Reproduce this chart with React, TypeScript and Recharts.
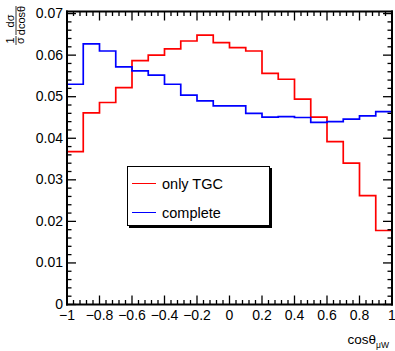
import { LineChart, Line, XAxis, YAxis, Legend } from 'recharts'

// histogram bin edges (20 bins of 0.1)
const binEdges = [
  -1, -0.9, -0.8, -0.7, -0.6, -0.5, -0.4, -0.3, -0.2, -0.1,
  0, 0.1, 0.2, 0.3, 0.4, 0.5, 0.6, 0.7, 0.8, 0.9, 1
]

const onlyTGC = [
  0.0368, 0.0461, 0.0486, 0.0522, 0.0587, 0.0600, 0.0615, 0.0634, 0.0648, 0.0630,
  0.0618, 0.0610, 0.0556, 0.0542, 0.0494, 0.0451, 0.0392, 0.0340, 0.0262, 0.0178
]

const complete = [
  0.0530, 0.0627, 0.0610, 0.0572, 0.0562, 0.0552, 0.0530, 0.0504, 0.0490, 0.0478,
  0.0478, 0.0460, 0.0451, 0.0452, 0.0450, 0.0438, 0.0440, 0.0446, 0.0454, 0.0464
]

const seriesNames = ['only TGC', 'complete']

const xMajorTicks = [-1, -0.8, -0.6, -0.4, -0.2, 0, 0.2, 0.4, 0.6, 0.8, 1]
const yMajorTicks = [0, 0.01, 0.02, 0.03, 0.04, 0.05, 0.06, 0.07]

// ROOT style: 5 minor divisions between majors
const xTicks = Array.from({ length: 51 }, (_, i) => -1 + i * 0.04)
const yTicks = Array.from({ length: 36 }, (_, i) => i * 0.002)

// last edge repeats the last bin so stepAfter closes the histogram at x = 1
const data = binEdges.map((x, i) => ({
  x,
  tgc: onlyTGC[Math.min(i, onlyTGC.length - 1)],
  complete: complete[Math.min(i, complete.length - 1)]
}))

const FONT = 'Liberation Sans, Arial, Helvetica, sans-serif'
const MAJOR = 9
const MINOR = 4.5
const FRAME = { stroke: '#000', strokeWidth: 2, strokeLinecap: 'square' as const }

const near = (v: number, list: number[]) => list.some(t => Math.abs(t - v) < 1e-6)
const fmtX = (v: number) => String(Number(v.toFixed(1))).replace('-', '\u2212')
const fmtY = (v: number) => String(Number(v.toFixed(2)))

const BottomTick = ({ x, y, payload }: any) => {
  const major = near(payload.value, xMajorTicks)
  return (
    <g>
      <line x1={x} x2={x} y1={y} y2={y - (major ? MAJOR : MINOR)} stroke='#000' strokeWidth={1.3} />
      {major && (
        <text x={x} y={y + 15} textAnchor='middle' fontSize={14} fontFamily={FONT} fill='#000'>
          {fmtX(payload.value)}
        </text>
      )}
    </g>
  )
}

const TopTick = ({ x, y, payload }: any) => {
  const major = near(payload.value, xMajorTicks)
  return <line x1={x} x2={x} y1={y} y2={y + (major ? MAJOR : MINOR)} stroke='#000' strokeWidth={1.3} />
}

const LeftTick = ({ x, y, payload }: any) => {
  const major = near(payload.value, yMajorTicks)
  return (
    <g>
      <line x1={x} x2={x + (major ? MAJOR : MINOR)} y1={y} y2={y} stroke='#000' strokeWidth={1.3} />
      {major && (
        <text x={x - 4} y={y + 4.5} textAnchor='end' fontSize={14} fontFamily={FONT} fill='#000'>
          {fmtY(payload.value)}
        </text>
      )}
    </g>
  )
}

const RightTick = ({ x, y, payload }: any) => {
  const major = near(payload.value, yMajorTicks)
  return <line x1={x} x2={x - (major ? MAJOR : MINOR)} y1={y} y2={y} stroke='#000' strokeWidth={1.3} />
}

// 1/σ dσ/dcosθ, rotated
const YTitle = () => (
  <g transform='translate(16, 48) rotate(-90)' fontFamily={FONT} fontSize={11} fill='#000'>
    <text x={7.5} y={-2} textAnchor='middle'>1</text>
    <line x1={3} x2={12} y1={0} y2={0} stroke='#000' strokeWidth={0.8} />
    <text x={7.5} y={8} textAnchor='middle'>σ</text>
    <text x={27} y={-2} textAnchor='middle'>dσ</text>
    <line x1={13} x2={42} y1={0} y2={0} stroke='#000' strokeWidth={0.8} />
    <text x={27.5} y={9} textAnchor='middle'>dcosθ</text>
  </g>
)

const XTitle = () => (
  <text x={389} y={344} textAnchor='end' fontFamily={FONT} fontSize={13.5} fill='#000'>
    cosθ<tspan fontSize={8.5} dy={4}>μW</tspan>
  </text>
)

const renderLegend = ({ payload }: any) => {
  const items = [...(payload || [])].sort(
    (a: any, b: any) => seriesNames.indexOf(a.value) - seriesNames.indexOf(b.value)
  )
  return (
    <div
      style={{
        position: 'relative',
        width: 143,
        height: 60,
        boxSizing: 'border-box',
        border: '1px solid #000',
        boxShadow: '2px 2px 0 #000',
        background: '#fff',
        fontFamily: FONT,
        fontSize: 14.5
      }}
    >
      {items.map((entry: any, i: number) => (
        <div key={entry.value} style={{ position: 'absolute', left: 4, top: 8 + i * 29, height: 17, display: 'flex', alignItems: 'center' }}>
          <span style={{ display: 'inline-block', width: 24, height: 0, borderTop: `1.5px solid ${entry.color}`, marginRight: 6 }} />
          <span style={{ color: '#000' }}>{entry.value}</span>
        </div>
      ))}
    </div>
  )
}

export default function App () {
  return (
    <div style={{ position: 'absolute', left: 0, top: 0, width: 395, height: 351, background: '#fff' }}>
      <LineChart
        width={395}
        height={351}
        data={data}
        margin={{ top: 10.5, right: 2, left: 7, bottom: 16.5 }}
      >
        <XAxis
          dataKey='x'
          type='number'
          domain={[-1, 1]}
          ticks={xTicks}
          interval={0}
          allowDataOverflow
          height={30}
          tickSize={0}
          tickMargin={0}
          tickLine={false}
          axisLine={FRAME}
          tick={<BottomTick />}
          label={<XTitle />}
        />
        <XAxis
          xAxisId='top'
          orientation='top'
          dataKey='x'
          type='number'
          domain={[-1, 1]}
          ticks={xTicks}
          interval={0}
          allowDataOverflow
          height={1}
          tickSize={0}
          tickMargin={0}
          tickLine={false}
          axisLine={FRAME}
          tick={<TopTick />}
        />
        <YAxis
          type='number'
          domain={[0, 0.0705]}
          ticks={yTicks}
          interval={0}
          allowDataOverflow
          width={60}
          tickSize={0}
          tickMargin={0}
          tickLine={false}
          axisLine={FRAME}
          tick={<LeftTick />}
          label={<YTitle />}
        />
        <YAxis
          yAxisId='right'
          orientation='right'
          type='number'
          domain={[0, 0.0705]}
          ticks={yTicks}
          interval={0}
          allowDataOverflow
          width={1}
          tickSize={0}
          tickMargin={0}
          tickLine={false}
          axisLine={FRAME}
          tick={<RightTick />}
        />
        <Legend
          layout='horizontal'
          verticalAlign='middle'
          align='center'
          wrapperStyle={{ left: 127, top: 166, width: 'auto', height: 'auto' }}
          content={renderLegend}
        />
        <Line
          type='stepAfter'
          dataKey='tgc'
          name={seriesNames[0]}
          stroke='#ff0000'
          strokeWidth={1.7}
          dot={false}
          activeDot={false}
          isAnimationActive={false}
        />
        <Line
          type='stepAfter'
          dataKey='complete'
          name={seriesNames[1]}
          stroke='#0000ff'
          strokeWidth={1.7}
          dot={false}
          activeDot={false}
          isAnimationActive={false}
        />
      </LineChart>
    </div>
  )
}
